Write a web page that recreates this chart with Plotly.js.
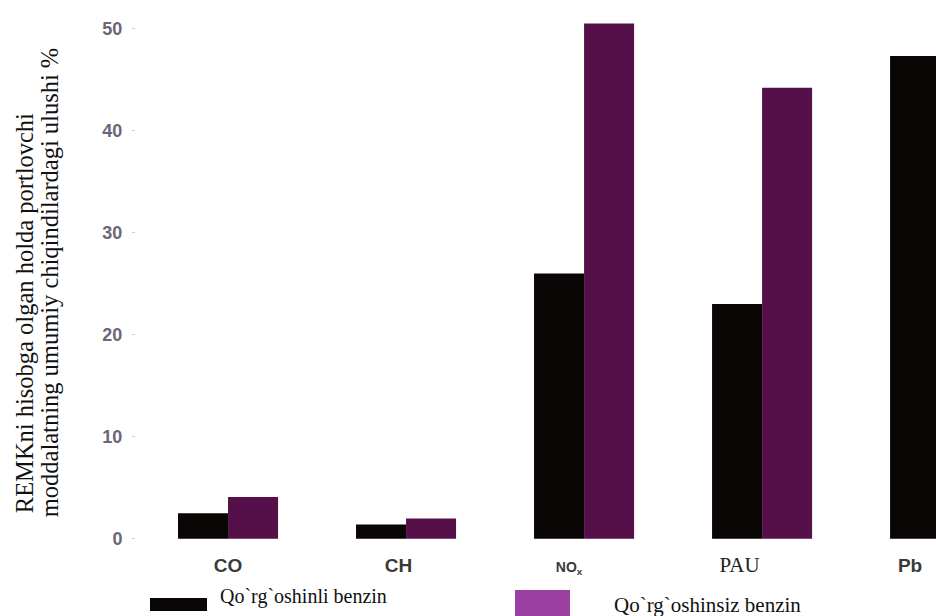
<!DOCTYPE html>
<html>
<head>
<meta charset="utf-8">
<script src="https://cdn.plot.ly/plotly-3.0.1.min.js"></script>
<style>html,body{margin:0;padding:0;background:#fff;overflow:hidden}</style>
</head>
<body>
<div id="chart" style="width:936px;height:616px"></div>
<script>
// Data
var categories = ["CO", "CH", "NOx", "PAU", "Pb"];
var tickLabels = [
  "<b>CO</b>",
  "<b>CH</b>",
  "<b><span style='font-size:14px'>NO<sub>x</sub></span></b>",
  "<span style='font-family:Liberation Serif;font-size:21px;color:#222'>PAU</span>",
  "<b>Pb</b>"
];
var leadedValues = [2.5, 1.4, 26, 23, 47.3];      // Qo`rg`oshinli benzin
var unleadedValues = [4.1, 2.0, 50.5, 44.2, 47];  // Qo`rg`oshinsiz benzin
var seriesNames = ["Qo`rg`oshinli benzin", "Qo`rg`oshinsiz benzin"];
var yTicks = [0, 10, 20, 30, 40, 50];
var yTitleLines = ["REMKni hisobga olgan holda portlovchi", "moddalatning umumiy chiqindilardagi ulushi %"];

var catIdx = categories.map(function(c, i){ return i; });

var traces = [
  {type:'bar', x:catIdx, y:leadedValues, name:seriesNames[0], marker:{color:'#0b0606'}, showlegend:false, hoverinfo:'y'},
  {type:'bar', x:catIdx, y:unleadedValues, name:seriesNames[1], marker:{color:'#551049'}, showlegend:false, hoverinfo:'y'},
  // invisible helper so the overlay label axis is drawn
  {type:'scatter', x:[0], y:[null], xaxis:'x2', yaxis:'y', showlegend:false, hoverinfo:'skip'}
];

var L = 136, W = 800, T = 2.5, H = 546.5;
function px(x){ return (x - L) / W; }
function py(y){ return (T + H - y) / H; }

var serif = 'Liberation Serif, Times New Roman, serif';

var layout = {
  width:936, height:616,
  margin:{l:L, r:0, t:T, b:616 - T - H},
  paper_bgcolor:'#fff', plot_bgcolor:'#fff',
  barmode:'group', bargap:0.438, bargroupgap:0,
  showlegend:false,
  xaxis:{range:[-0.517, 3.977], showticklabels:false, showgrid:false, zeroline:false, showline:false, ticks:'', tickvals:catIdx},
  xaxis2:{overlaying:'x', anchor:'y', side:'bottom', range:[-0.54, 4.152], tickmode:'array', tickvals:catIdx, ticktext:tickLabels,
          showgrid:false, zeroline:false, showline:false, ticks:'', ticklabelstandoff:3,
          tickfont:{family:'Liberation Sans, Arial, sans-serif', size:19, color:'#3a3a3a'}},
  yaxis:{range:[-1, 52.5], tickvals:yTicks, showgrid:false, zeroline:false, showline:false,
         ticks:'outside', ticklen:3, tickcolor:'#d0d0d0', tickwidth:1, ticklabelstandoff:6,
         tickfont:{family:'Liberation Sans, Arial, sans-serif', size:18, color:'#6c6677', weight:'bold'}},
  shapes:[
    {type:'rect', xref:'paper', yref:'paper', x0:px(150), x1:px(207), y0:py(611), y1:py(598), fillcolor:'#0b0606', line:{width:0}},
    {type:'rect', xref:'paper', yref:'paper', x0:px(515), x1:px(570), y0:py(616), y1:py(590), fillcolor:'#9b3fa3', line:{width:0}}
  ],
  annotations:[
    {xref:'paper', yref:'paper', x:px(218), y:py(597), xanchor:'left', yanchor:'middle', showarrow:false, text:seriesNames[0],
     font:{family:serif, size:20, color:'#111'}},
    {xref:'paper', yref:'paper', x:px(612), y:py(605), xanchor:'left', yanchor:'middle', showarrow:false, text:seriesNames[1],
     font:{family:serif, size:21, color:'#111'}},
    {xref:'paper', yref:'paper', x:px(24), y:py(313), xanchor:'center', yanchor:'middle', textangle:-90, showarrow:false, text:yTitleLines[0],
     font:{family:serif, size:24.5, color:'#111'}},
    {xref:'paper', yref:'paper', x:px(49), y:py(282), xanchor:'center', yanchor:'middle', textangle:-90, showarrow:false, text:yTitleLines[1],
     font:{family:serif, size:24.5, color:'#111'}}
  ]
};

Plotly.newPlot('chart', traces, layout, {displayModeBar:false, staticPlot:true});
</script>
</body>
</html>
